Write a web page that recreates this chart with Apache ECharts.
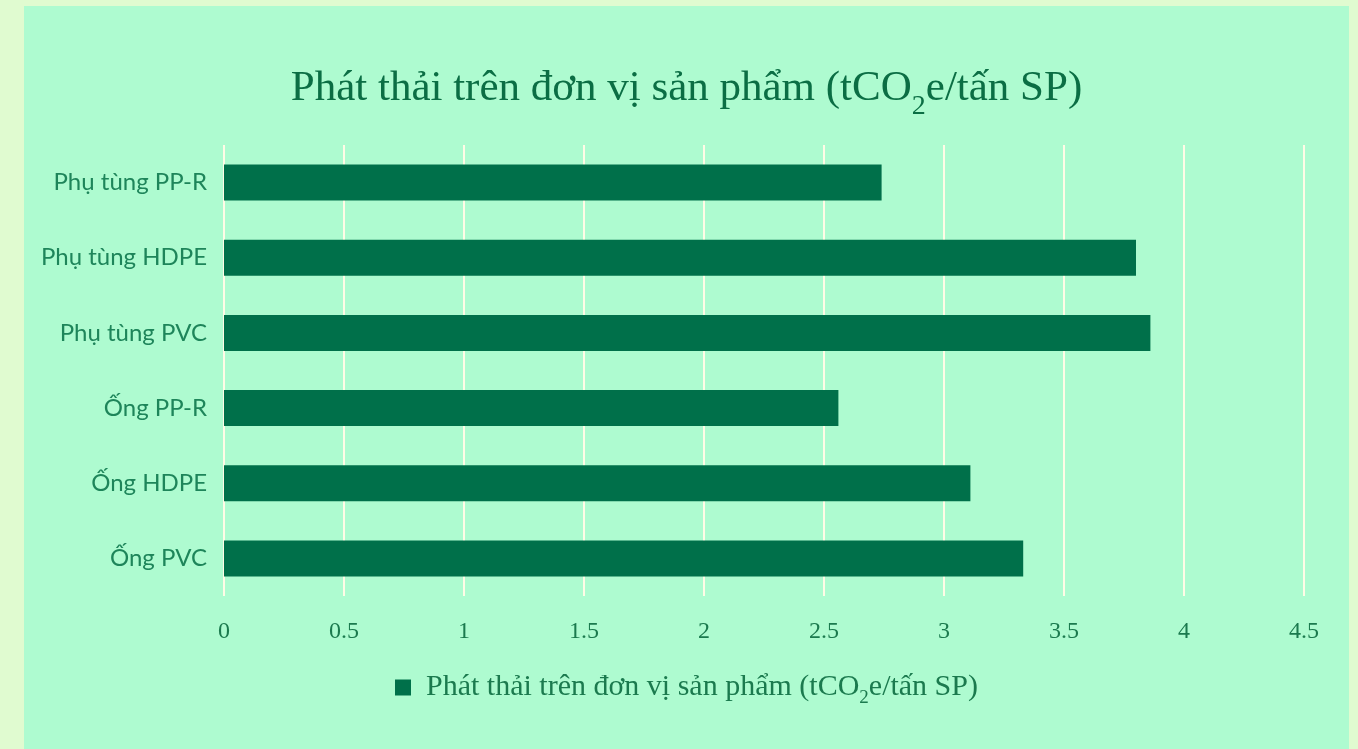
<!DOCTYPE html>
<html>
<head>
<meta charset="utf-8">
<script src="https://cdn.jsdelivr.net/npm/echarts@6/dist/echarts.min.js"></script>
<style>
    html, body { margin: 0; padding: 0; background: #e0fbd0; }
    #chart { position: absolute; left: 24px; top: 6px; width: 1325px; height: 743px; background: #aefbd0; }
</style>
</head>
<body>
<div id="chart"></div>
<script>
const categories = ['Ống PVC', 'Ống HDPE', 'Ống PP-R', 'Phụ tùng PVC', 'Phụ tùng HDPE', 'Phụ tùng PP-R'];
const emissions = [3.33, 3.11, 2.56, 3.86, 3.80, 2.74];
const xTicks = [0, 0.5, 1, 1.5, 2, 2.5, 3, 3.5, 4, 4.5];

const seriesName = 'Phát thải trên đơn vị sản phẩm (tCO2e/tấn SP)';
const serifFont = '"Liberation Serif", "DejaVu Serif", serif';

const chart = echarts.init(document.getElementById('chart'));

chart.setOption({
    backgroundColor: '#aefbd0',
    title: {
        text: '{a|Phát thải trên đơn vị sản phẩm (tCO}{s|2}{a|e/tấn SP)}',
        left: 'center',
        top: 54,
        padding: [5, 5, 5, 24],
        textStyle: {
            fontWeight: 'normal',
            rich: {
                a: { fontFamily: serifFont, fontSize: 43, fontWeight: 'normal', color: '#0b6e44', lineHeight: 48 },
                s: { fontFamily: serifFont, fontSize: 28, fontWeight: 'normal', color: '#0b6e44', lineHeight: 48, padding: [36, 0, 0, 0] }
            }
        }
    },
    legend: {
        bottom: 36,
        left: 'center',
        padding: [5, 5, 5, 12],
        itemWidth: 16,
        itemHeight: 16,
        itemGap: 10,
        icon: 'rect',
        formatter: () => '{a|Phát thải trên đơn vị sản phẩm (tCO}{s|2}{a|e/tấn SP)}',
        textStyle: {
            padding: [0, 0, 0, 10],
            rich: {
                a: { fontFamily: serifFont, fontSize: 30, color: '#1b7a4e', lineHeight: 32 },
                s: { fontFamily: serifFont, fontSize: 19, color: '#1b7a4e', lineHeight: 32, padding: [22, 0, 0, 0] }
            }
        }
    },
    grid: { left: 200, right: 45, top: 139, bottom: 153 },
    xAxis: {
        type: 'value',
        min: 0,
        max: 4.5,
        interval: 0.5,
        axisLine: { show: false },
        axisTick: { show: false },
        splitLine: { lineStyle: { color: '#fffbe6', width: 2 } },
        axisLabel: {
            margin: 24,
            fontFamily: serifFont,
            fontSize: 24,
            color: '#1b7a4e',
            formatter: v => xTicks.includes(v) ? String(v) : ''
        }
    },
    yAxis: {
        type: 'category',
        data: categories,
        axisLine: { show: false },
        axisTick: { show: false },
        axisLabel: {
            margin: 17,
            fontFamily: 'Lato, "Noto Sans", sans-serif',
            fontSize: 24,
            color: '#1e855a'
        }
    },
    series: [{
        name: seriesName,
        type: 'bar',
        data: emissions,
        barWidth: 36,
        itemStyle: { color: '#00704a' }
    }]
});
</script>
</body>
</html>
